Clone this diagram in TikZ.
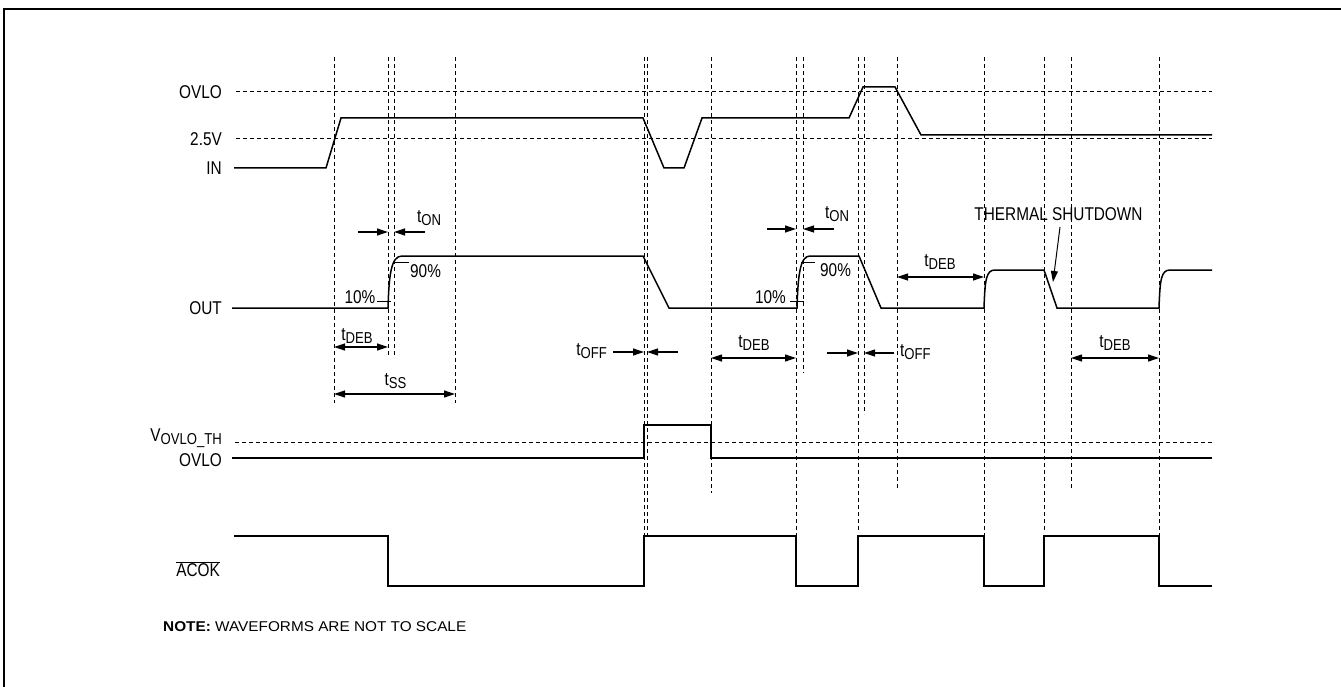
\documentclass[tikz,border=0pt]{standalone}
\usepackage{fontspec}
\setmainfont{Liberation Sans}[FakeStretch=0.83]
\newfontfamily\notefont{Liberation Sans}[FakeStretch=1.08]
\usetikzlibrary{arrows.meta}
\newcommand{\sbs}[1]{\raisebox{-3pt}{\fontsize{15.8}{16}\selectfont #1}}
\begin{document}
\begin{tikzpicture}[x=1pt,y=-1pt,
  lbl/.style={font=\fontsize{18.5}{19}\selectfont, inner sep=0pt},
  notestyle/.style={font=\notefont\fontsize{14.2}{15}\selectfont, inner sep=0pt},
  gridline/.style={line width=1pt, dash pattern=on 4pt off 3pt},
  wave/.style={line width=1.5pt, line join=miter},
  tickline/.style={line width=1pt},
  dimline/.style={line width=1.2pt, {Triangle[length=11pt,width=7pt]}-{Triangle[length=11pt,width=7pt]}},
  arrline/.style={line width=1.2pt, -{Triangle[length=11pt,width=7pt]}},
]
\useasboundingbox (0,0) rectangle (1341,687);
% frame
\draw[line width=2.2pt] (4,687) -- (4,9) -- (1341,9);

% vertical guide lines
\foreach \x/\yb in {334/403, 388/357, 394/357, 455/403, 644/535, 647/535, 711/493,
  796/535, 803/373, 858/530, 864/414, 897/490, 984/535, 1044/530, 1071/490, 1159/535}
  \draw[gridline] (\x,57) -- (\x,\yb);

% horizontal guide lines
\draw[gridline] (236,92) -- (1212,92);
\draw[gridline] (236,139) -- (1212,139);
\draw[gridline] (235,442) -- (1212,442);

% left labels
\node[lbl, anchor=east] (lovlo) at (222,92) {OVLO};
\node[lbl, anchor=east] (l25) at (222,139) {2.5V};
\node[lbl, anchor=east] (lin) at (222,168) {IN};
\node[lbl, anchor=east] (lout) at (222,308) {OUT};
\node[lbl, anchor=east] (lvth) at (222,438) {V\sbs{OVLO\_TH}};
\node[lbl, anchor=east] (lovlo2) at (222,460) {OVLO};
\node[lbl, anchor=east] (lacok) at (220,569) {$\overline{\mbox{ACOK}}$};

% IN waveform
\draw[wave] (234,168) -- (326,168) -- (341,118) -- (643,118) -- (664,168) -- (684,168)
  -- (702,118) -- (849,118) -- (863,87) -- (895,87) -- (921,135) -- (1212,135);

% OUT waveform
\draw[wave] (232,308) -- (388,308) .. controls (389,275) and (391,256) .. (402,256)
  -- (643,256) -- (669,308) -- (797,308) .. controls (798,275) and (800,256) .. (810,256)
  -- (859,256) -- (881,308) -- (984,308) .. controls (985,280) and (986,270) .. (995,270)
  -- (1044,270) -- (1057,308) -- (1159,308) .. controls (1160,280) and (1161,270) .. (1170,270)
  -- (1212,270);

% 10% / 90% ticks
\draw[tickline] (377,301) -- (391,301);
\draw[tickline] (393,262) -- (409,262);
\draw[tickline] (790,301) -- (804,301);
\draw[tickline] (801,262) -- (815,262);
\node[lbl, anchor=east] (p10a) at (375.5,297.5) {10\%};
\node[lbl, anchor=west] (p90a) at (410,271.5) {90\%};
\node[lbl, anchor=east] (p10b) at (786,297.5) {10\%};
\node[lbl, anchor=west] (p90b) at (820,270.5) {90\%};

% tON
\draw[arrline] (358,232) -- (388,232);
\draw[arrline] (425,232) -- (394,232);
\node[lbl, anchor=west] (ton1) at (417,218) {t\sbs{ON}};
\draw[arrline] (767,229) -- (796,229);
\draw[arrline] (834,229) -- (803,229);
\node[lbl, anchor=west] (ton2) at (825,214) {t\sbs{ON}};

% tDEB
\draw[dimline] (334,347) -- (388,347);
\node[lbl] (tdeb1) at (357,336) {t\sbs{DEB}};
\draw[dimline] (711,358) -- (796,358);
\node[lbl] (tdeb2) at (754,343) {t\sbs{DEB}};
\draw[dimline] (897,277) -- (984,277);
\node[lbl] (tdeb3) at (940,262) {t\sbs{DEB}};
\draw[dimline] (1071,358) -- (1159,358);
\node[lbl] (tdeb4) at (1115,343) {t\sbs{DEB}};

% tSS
\draw[dimline] (334,394) -- (455,394);
\node[lbl] (tss) at (395.5,381) {t\sbs{SS}};

% tOFF
\node[lbl, anchor=east] (toff1) at (607,351) {t\sbs{OFF}};
\draw[arrline] (613,352) -- (644,352);
\draw[arrline] (678,352) -- (647,352);
\draw[arrline] (827,353) -- (858,353);
\draw[arrline] (894,353) -- (864,353);
\node[lbl, anchor=west] (toff2) at (900,352) {t\sbs{OFF}};

% thermal shutdown
\node[lbl] (therm) at (1058.5,214) {THERMAL SHUTDOWN};
\coordinate (thermtip) at (1053,282);
\draw[arrline, line width=1pt] (1060,227) -- (thermtip);

% OVLO (lower) waveform
\draw[wave] (232,458) -- (644,458) -- (644,425) -- (711,425) -- (711,458) -- (1212,458);

% ACOK waveform
\draw[wave] (234,536) -- (388,536) -- (388,586) -- (644,586) -- (644,536) -- (796,536)
  -- (796,586) -- (858,586) -- (858,536) -- (984,536) -- (984,586) -- (1044,586)
  -- (1044,536) -- (1159,536) -- (1159,586) -- (1212,586);

% note
\node[notestyle, anchor=west] (note) at (163,627) {\textbf{NOTE:} WAVEFORMS ARE NOT TO SCALE};
\end{tikzpicture}
\end{document}
